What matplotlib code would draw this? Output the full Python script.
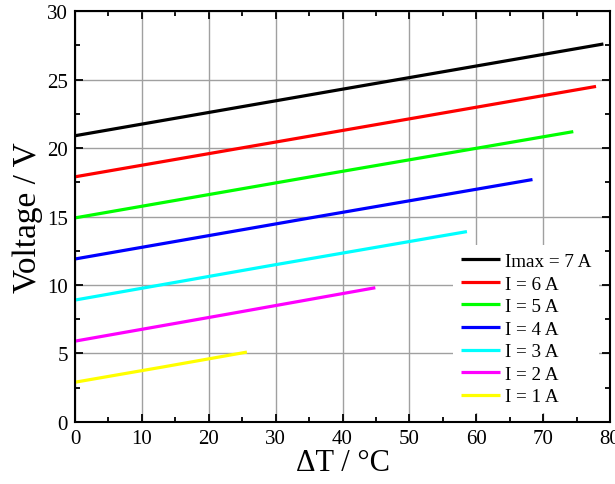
import matplotlib
matplotlib.use("Agg")
import matplotlib.pyplot as plt
from matplotlib.ticker import MultipleLocator

plt.rcParams['font.family'] = ['Liberation Serif', 'DejaVu Serif']
plt.rcParams['mathtext.fontset'] = 'stix'

labels = ["Imax = 7 A", "I = 6 A", "I = 5 A", "I = 4 A", "I = 3 A", "I = 2 A", "I = 1 A"]
colors = ["#000000", "#ff0000", "#00ff00", "#0000ff", "#00ffff", "#ff00ff", "#ffff00"]
dT_series = [
    [0, 40, 79.0],
    [0, 39, 77.9],
    [0, 37, 74.5],
    [0, 34, 68.4],
    [0, 29, 58.6],
    [0, 22, 44.9],
    [0, 13, 25.7],
]
V_series = [
    [20.9, 24.3, 27.6],
    [17.9, 21.2, 24.5],
    [14.9, 18.05, 21.2],
    [11.9, 14.8, 17.7],
    [8.9, 11.4, 13.9],
    [5.9, 7.8, 9.8],
    [2.9, 4.0, 5.1],
]

fig = plt.figure(figsize=(6.15, 4.85), dpi=100)
ax = fig.add_axes([0.122, 0.128, 0.870, 0.847])

for x, y, c, l in zip(dT_series, V_series, colors, labels):
    ax.plot(x, y, color=c, lw=2.3, label=l, solid_capstyle='butt')

ax.set_xlim(0, 80)
ax.set_ylim(0, 30)
ax.xaxis.set_major_locator(MultipleLocator(10))
ax.xaxis.set_minor_locator(MultipleLocator(5))
ax.yaxis.set_major_locator(MultipleLocator(5))
ax.yaxis.set_minor_locator(MultipleLocator(2.5))
ax.grid(True, which='major', color='#a0a0a0', lw=1.0)
ax.set_axisbelow(True)
ax.tick_params(which='both', direction='in', top=True, right=True, labelsize=15, width=1.3)
ax.tick_params(axis='x', which='both', pad=5)
ax.tick_params(axis='y', which='both', pad=5)
ax.tick_params(which='major', length=6)
ax.tick_params(which='minor', length=3.5)
for s in ax.spines.values():
    s.set_linewidth(1.5)

ax.set_xlabel("ΔT / °C", fontsize=22, labelpad=0)
ax.set_ylabel("Voltage / V", fontsize=24, labelpad=3)

leg = ax.legend(loc='lower right', bbox_to_anchor=(0.998, -0.002), frameon=True, fontsize=13.8,
                handlelength=2.05, handletextpad=0.28, labelspacing=0.27, borderpad=0.4,
                fancybox=False)
leg.get_frame().set_edgecolor('none')
leg.get_frame().set_facecolor('white')
leg.get_frame().set_alpha(1.0)

fig.savefig("out.png", dpi=100)
